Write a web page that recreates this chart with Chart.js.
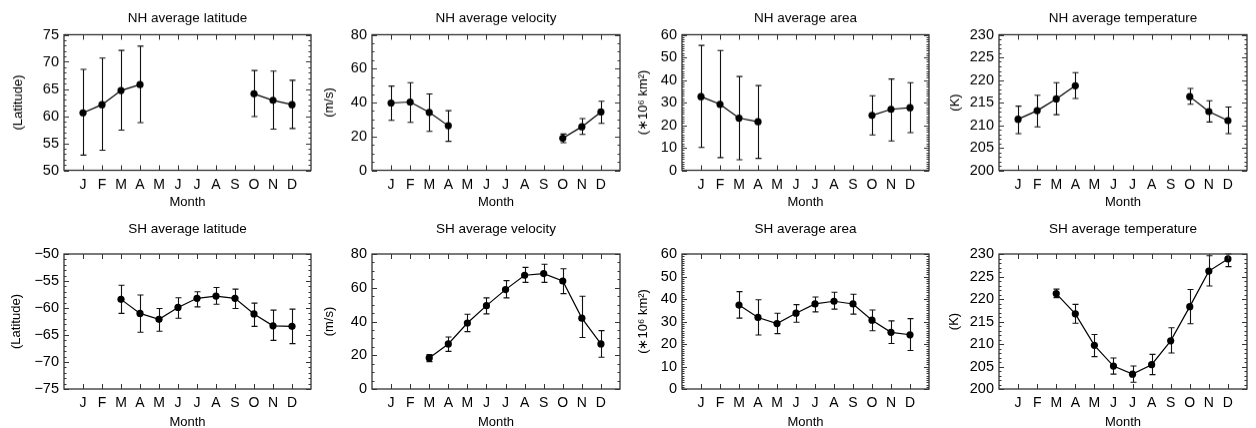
<!DOCTYPE html>
<html>
<head>
<meta charset="utf-8">
<script src="https://cdn.jsdelivr.net/npm/chart.js@4.4.0/dist/chart.umd.min.js"></script>
<style>
  html, body { margin: 0; padding: 0; background: #fff; }
  body { width: 1256px; height: 428px; position: relative; overflow: hidden; }
  .panel { position: absolute; }
</style>
</head>
<body>
<script>
const months = ['J', 'F', 'M', 'A', 'M', 'J', 'J', 'A', 'S', 'O', 'N', 'D'];

// NH (northern hemisphere) - no data May..Sep
const nhLat   = [60.6, 62.1, 64.7, 65.8, null, null, null, null, null, 64.1, 62.9, 62.1];
const nhLatLo = [52.8, 53.7, 57.4, 58.8, null, null, null, null, null, 59.9, 57.6, 57.7];
const nhLatHi = [68.6, 70.7, 72.1, 72.9, null, null, null, null, null, 68.4, 68.3, 66.6];

const nhVel   = [39.7, 40.3, 34.2, 26.3, null, null, null, null, null, 18.9, 25.7, 34.4];
const nhVelLo = [29.5, 28.3, 23.0, 17.1, null, null, null, null, null, 16.3, 21.2, 27.7];
const nhVelHi = [49.7, 51.7, 45.0, 35.2, null, null, null, null, null, 21.4, 30.5, 40.7];

const nhArea   = [32.6, 29.2, 23.1, 21.5, null, null, null, null, null, 24.3, 27.0, 27.7];
const nhAreaLo = [10.1, 5.6, 4.7, 5.3, null, null, null, null, null, 15.7, 13.0, 16.7];
const nhAreaHi = [55.3, 53.0, 41.5, 37.5, null, null, null, null, null, 33.0, 40.4, 38.8];

const nhTemp   = [211.3, 213.2, 215.8, 218.7, null, null, null, null, null, 216.3, 213.0, 211.0];
const nhTempLo = [208.1, 209.6, 212.3, 215.9, null, null, null, null, null, 214.6, 210.7, 208.1];
const nhTempHi = [214.2, 216.6, 219.4, 221.6, null, null, null, null, null, 218.1, 215.4, 214.0];

// SH (southern hemisphere) - no data Jan, Feb
const shLat   = [null, null, -58.4, -61.0, -62.1, -59.9, -58.2, -57.8, -58.2, -61.1, -63.3, -63.4];
const shLatLo = [null, null, -61.0, -64.5, -64.3, -61.9, -59.8, -59.3, -60.1, -63.4, -66.0, -66.6];
const shLatHi = [null, null, -55.8, -57.6, -60.1, -58.1, -57.0, -56.2, -56.5, -59.1, -60.4, -60.2];

const shVel   = [null, null, 18.4, 26.7, 39.1, 49.4, 58.9, 67.4, 68.4, 64.0, 42.0, 26.7];
const shVelLo = [null, null, 16.2, 22.3, 34.0, 44.5, 54.0, 63.2, 63.2, 56.5, 30.5, 18.8];
const shVelHi = [null, null, 20.4, 30.8, 44.3, 54.0, 64.2, 72.1, 73.9, 71.3, 55.0, 34.6];

const shArea   = [null, null, 37.3, 31.8, 29.1, 33.7, 37.8, 39.0, 37.8, 30.6, 25.2, 24.1];
const shAreaLo = [null, null, 31.5, 24.0, 24.6, 29.7, 34.3, 35.5, 33.3, 25.9, 20.2, 17.1];
const shAreaHi = [null, null, 43.3, 39.7, 33.7, 37.5, 40.9, 43.0, 42.1, 35.1, 30.3, 31.3];

const shTemp   = [null, null, 221.2, 216.7, 209.7, 205.1, 203.3, 205.4, 210.7, 218.3, 226.2, 228.9];
const shTempLo = [null, null, 220.3, 214.6, 207.2, 203.3, 201.5, 203.2, 208.0, 214.5, 222.9, 227.2];
const shTempHi = [null, null, 222.2, 218.8, 212.1, 206.9, 205.1, 207.7, 213.6, 222.1, 229.6, 230.0];

const FONT = '"Liberation Sans", Arial, Helvetica, sans-serif';

// layout of the 2x4 grid (plot boxes in page pixels)
const plotLeft  = [64, 372, 682, 999];
const plotRight = [311, 620, 929, 1247];
const rows = [
    {top: 0,   plotTop: 34.5, plotBottom: 169.5, titleMid: 18,    monthPad: 4.2},
    {top: 214, plotTop: 254,  plotBottom: 389,   titleMid: 229.3, monthPad: 2.5}
];
const AXW = 62;   // y axis box width
const AXH = 44;   // x axis box height
const RPAD = 6;
const TITLE_SIZE = 13.5;

const panels = [
    {row: 0, col: 0, title: 'NH average latitude', unit: '(Latitude)', y: nhLat, lo: nhLatLo, hi: nhLatHi, min: 50, max: 75, step: 5, minor: 1, unitOff: 46},
    {row: 0, col: 1, title: 'NH average velocity', unit: '(m/s)', y: nhVel, lo: nhVelLo, hi: nhVelHi, min: 0, max: 80, step: 20, minor: 5, unitOff: 43},
    {row: 0, col: 2, title: 'NH average area', unit: '(\u221710\u2076 km\u00b2)', y: nhArea, lo: nhAreaLo, hi: nhAreaHi, min: 0, max: 60, step: 10, minor: 1, unitOff: 39},
    {row: 0, col: 3, title: 'NH average temperature', unit: '(K)', y: nhTemp, lo: nhTempLo, hi: nhTempHi, min: 200, max: 230, step: 5, minor: 1, unitOff: 44},
    {row: 1, col: 0, title: 'SH average latitude', unit: '(Latitude)', y: shLat, lo: shLatLo, hi: shLatHi, min: -75, max: -50, step: 5, minor: 1, unitOff: 48},
    {row: 1, col: 1, title: 'SH average velocity', unit: '(m/s)', y: shVel, lo: shVelLo, hi: shVelHi, min: 0, max: 80, step: 20, minor: 5, unitOff: 43},
    {row: 1, col: 2, title: 'SH average area', unit: '(\u221710\u2076 km\u00b2)', y: shArea, lo: shAreaLo, hi: shAreaHi, min: 0, max: 60, step: 10, minor: 1, unitOff: 39},
    {row: 1, col: 3, title: 'SH average temperature', unit: '(K)', y: shTemp, lo: shTempLo, hi: shTempHi, min: 200, max: 230, step: 5, minor: 1, unitOff: 45}
];

// error bars, frame box and inward ticks
const framePlugin = {
    id: 'frame',
    beforeDatasetsDraw(chart, args, opts) {
        const ctx = chart.ctx, xs = chart.scales.x, ys = chart.scales.y;
        ctx.save();
        ctx.strokeStyle = '#111';
        ctx.lineWidth = 1.1;
        opts.lo.forEach((l, i) => {
            const h = opts.hi[i];
            if (l == null || h == null) return;
            const x = Math.round(xs.getPixelForValue(i + 1)) + 0.5;
            const y1 = ys.getPixelForValue(l), y2 = ys.getPixelForValue(h);
            ctx.beginPath();
            ctx.moveTo(x, y1); ctx.lineTo(x, y2);
            ctx.moveTo(x - 3, y1); ctx.lineTo(x + 3, y1);
            ctx.moveTo(x - 3, y2); ctx.lineTo(x + 3, y2);
            ctx.stroke();
        });
        ctx.restore();
    },
    afterDraw(chart, args, opts) {
        const ctx = chart.ctx, xs = chart.scales.x, ys = chart.scales.y;
        const {left, right, top, bottom} = chart.chartArea;
        ctx.save();
        ctx.strokeStyle = '#333';
        ctx.lineWidth = 1.3;
        ctx.strokeRect(left, top, right - left, bottom - top);
        ctx.lineWidth = 1;
        ctx.beginPath();
        for (let v = ys.min; v <= ys.max + 1e-6; v += opts.minor) {
            const y = Math.round(ys.getPixelForValue(v)) + 0.5;
            const major = ys.ticks.some(t => Math.abs(t.value - v) < 1e-6);
            const len = major ? 5 : 2.5;
            ctx.moveTo(left, y); ctx.lineTo(left + len, y);
            ctx.moveTo(right, y); ctx.lineTo(right - len, y);
        }
        xs.ticks.forEach(t => {
            const x = Math.round(xs.getPixelForValue(t.value)) + 0.5;
            ctx.moveTo(x, bottom); ctx.lineTo(x, bottom - 5);
            ctx.moveTo(x, top); ctx.lineTo(x, top + 5);
        });
        ctx.stroke();
        ctx.restore();
    }
};

const charts = [];
panels.forEach((p, n) => {
    const r = rows[p.row];
    const div = document.createElement('div');
    div.className = 'panel';
    div.style.left = (plotLeft[p.col] - AXW) + 'px';
    div.style.top = r.top + 'px';
    div.style.width = (AXW + plotRight[p.col] - plotLeft[p.col] + RPAD) + 'px';
    div.style.height = (r.plotBottom - r.top + AXH) + 'px';
    const cv = document.createElement('canvas');
    div.appendChild(cv);
    document.body.appendChild(div);

    const titleLH = TITLE_SIZE * 1.2;
    const titleTop = r.titleMid - r.top - titleLH / 2;
    const titleBottom = r.plotTop - r.top - titleTop - titleLH;

    charts.push(new Chart(cv, {
        type: 'line',
        data: {
            datasets: [{
                data: months.map((m, i) => ({x: i + 1, y: p.y[i]})),
                borderColor: '#000',
                borderWidth: 1.2,
                pointRadius: 3.6,
                pointBackgroundColor: '#000',
                pointBorderWidth: 0,
                spanGaps: false,
                tension: 0
            }]
        },
        options: {
            responsive: true,
            maintainAspectRatio: false,
            animation: false,
            layout: {padding: {left: 0, right: RPAD, top: 0, bottom: 0}},
            plugins: {
                legend: {display: false},
                tooltip: {enabled: false},
                title: {
                    display: true,
                    text: p.title,
                    fullSize: false,
                    color: '#000',
                    font: {family: FONT, size: TITLE_SIZE, weight: 'normal'},
                    padding: {top: titleTop, bottom: titleBottom}
                },
                frame: {lo: p.lo, hi: p.hi, minor: p.minor}
            },
            scales: {
                x: {
                    type: 'linear',
                    min: 0,
                    max: 13,
                    grid: {display: false, drawTicks: false},
                    border: {display: false},
                    afterBuildTicks: s => { s.ticks = months.map((m, i) => ({value: i + 1})); },
                    afterFit: s => { s.height = AXH; },
                    ticks: {
                        autoSkip: false,
                        maxRotation: 0,
                        padding: 6,
                        color: '#000',
                        font: {family: FONT, size: 14},
                        callback: v => months[v - 1] || ''
                    },
                    title: {
                        display: true,
                        text: 'Month',
                        color: '#000',
                        font: {family: FONT, size: 13},
                        padding: {top: 0, bottom: r.monthPad}
                    }
                },
                y: {
                    min: p.min,
                    max: p.max,
                    grid: {display: false, drawTicks: false},
                    border: {display: false},
                    afterFit: s => { s.width = AXW; },
                    ticks: {
                        stepSize: p.step,
                        autoSkip: false,
                        padding: 5,
                        color: '#000',
                        font: {family: FONT, size: 14.5},
                        callback: v => String(v).replace('-', '\u2212')
                    },
                    title: {
                        display: true,
                        text: p.unit,
                        color: '#000',
                        font: {family: FONT, size: 13},
                        padding: {top: AXW - p.unitOff - 7.8, bottom: 0}
                    }
                }
            }
        },
        plugins: [framePlugin]
    }));
});
</script>
</body>
</html>
